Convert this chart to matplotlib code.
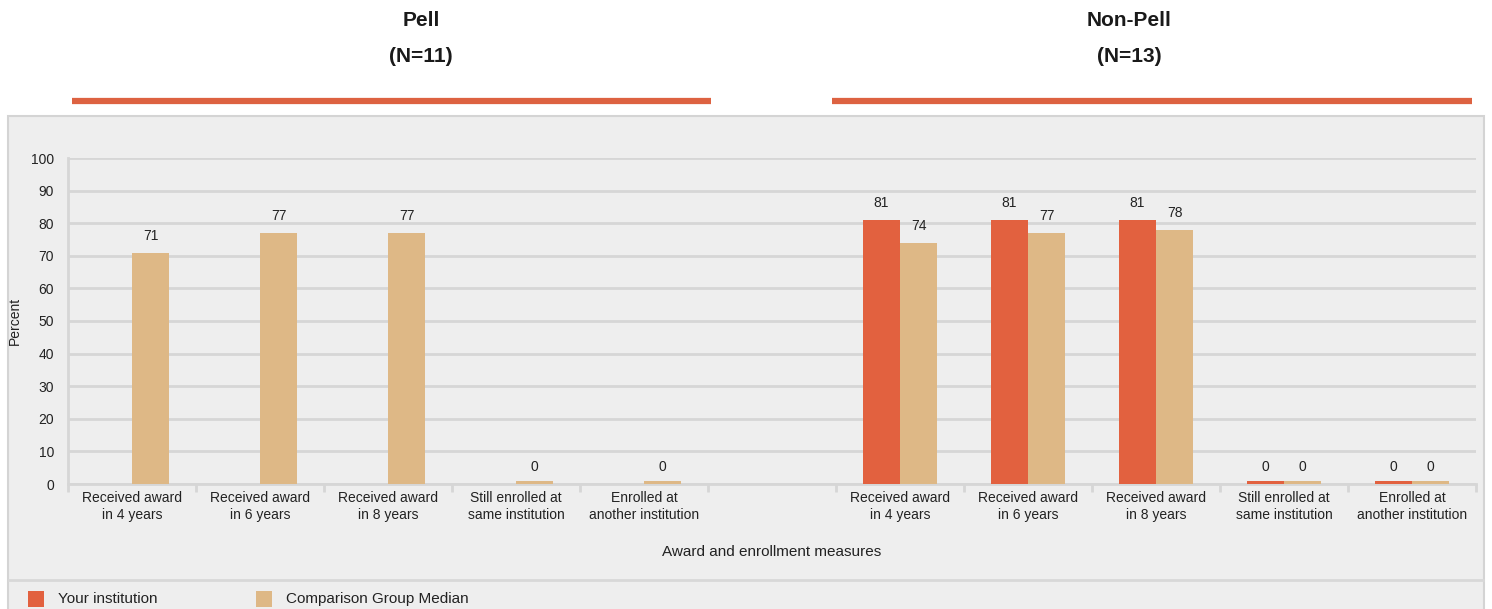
import matplotlib
matplotlib.use("Agg")
import matplotlib.pyplot as plt
from matplotlib.patches import Rectangle
from matplotlib.lines import Line2D
import numpy as np

plt.rcParams['font.family'] = ['Liberation Sans', 'DejaVu Sans']

categories = ["Received award\nin 4 years", "Received award\nin 6 years", "Received award\nin 8 years",
              "Still enrolled at\nsame institution", "Enrolled at\nanother institution", "",
              "Received award\nin 4 years", "Received award\nin 6 years", "Received award\nin 8 years",
              "Still enrolled at\nsame institution", "Enrolled at\nanother institution"]
your_institution = [None, None, None, None, None, None, 81, 81, 81, 0, 0]
comparison_median = [71, 77, 77, 0, 0, None, 74, 77, 78, 0, 0]
group_titles = ["Pell", "Non-Pell"]
group_sizes = ["(N=11)", "(N=13)"]
series_names = ["Your institution", "Comparison Group Median"]

c_your = "#e2613f"
c_comp = "#deb886"
bg = "#eeeeee"
grid_c = "#d6d6d6"

W, H = 1492, 609
fig = plt.figure(figsize=(W/100, H/100), dpi=100)
fig.patch.set_facecolor("white")

def fx(px): return px / W
def fy(py): return 1 - py / H

# panel background
fig.patches.append(Rectangle((fx(8), fy(611)), fx(1484) - fx(8), fy(116) - fy(611),
                             transform=fig.transFigure, facecolor=bg, edgecolor="#d4d4d4", lw=1.5, zorder=-10))
# legend separator
fig.lines.append(Line2D([fx(9), fx(1483)], [fy(580), fy(580)], transform=fig.transFigure, color="#d8d8d8", lw=2, zorder=-5))

# group headers
for title, size, x0, x1, tx in zip(group_titles, group_sizes, [72, 832], [711, 1472], [421, 1129]):
    fig.lines.append(Line2D([fx(x0), fx(x1)], [fy(101), fy(101)], transform=fig.transFigure,
                            color="#dd6241", lw=4.5, solid_capstyle="butt"))
    fig.text(fx(tx), fy(21), title, ha="center", va="center", fontsize=15,
             fontweight="bold", color="#1a1a1a")
    fig.text(fx(tx), fy(57), size, ha="center", va="center", fontsize=15,
             fontweight="bold", color="#1a1a1a")

ax = fig.add_axes([fx(68), fy(484), fx(1476) - fx(68), fy(158) - fy(484)])
ax.set_facecolor(bg)
n = len(categories)
x = np.arange(n)
bw = 0.29
minh = 0.8
for i in range(n):
    v = your_institution[i]
    if v is not None:
        ax.bar(x[i] - bw/2, max(v, minh), width=bw, color=c_your, zorder=3)
        ax.text(x[i] - bw/2, v + 3, f"{v}", ha="center", va="bottom", fontsize=10, color="#222222")
    v = comparison_median[i]
    if v is not None:
        ax.bar(x[i] + bw/2, max(v, minh), width=bw, color=c_comp, zorder=3)
        ax.text(x[i] + bw/2, v + 3, f"{v}", ha="center", va="bottom", fontsize=10, color="#222222")

ax.set_xlim(-0.5, n - 0.5)
ax.set_ylim(0, 100)
ax.set_yticks(range(0, 101, 10))
ax.yaxis.grid(True, color=grid_c, lw=2, zorder=0)
ax.set_axisbelow(True)
ax.set_xticks(x)
ax.set_xticklabels(categories, fontsize=10, color="#222222", linespacing=1.25)
ax.tick_params(axis="x", length=0, pad=5)
ax.tick_params(axis="y", length=0, labelsize=10, labelcolor="#222222", pad=10)
# category boundary ticks
ax.set_xticks(np.arange(-0.5, n + 0.5, 1), minor=True)
ax.tick_params(axis="x", which="minor", length=6, width=2, color=grid_c)
for s in ["top", "right"]:
    ax.spines[s].set_visible(False)
ax.spines["left"].set_color(grid_c)
ax.spines["left"].set_linewidth(2)
ax.spines["bottom"].set_color(grid_c)
ax.spines["bottom"].set_linewidth(2)
ax.set_ylabel("Percent", fontsize=10, color="#222222")
ax.yaxis.set_label_coords((22 - 68) / 1408, 0.5)
ax.set_xlabel("Award and enrollment measures", fontsize=11, color="#222222")
ax.xaxis.set_label_coords(0.5, -(545 - 484) / 326)

# legend
for name, col, sx in zip(series_names, [c_your, c_comp], [28, 256]):
    fig.patches.append(Rectangle((fx(sx), fy(607)), fx(16), fy(591) - fy(607), transform=fig.transFigure,
                                 facecolor=col, edgecolor="none"))
    fig.text(fx(sx + 30), fy(599), name, ha="left", va="center", fontsize=11, color="#222222")

fig.savefig("out.png", dpi=100, facecolor="white")
